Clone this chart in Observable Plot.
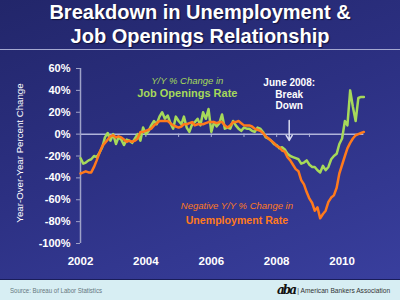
<!DOCTYPE html>
<html><head><meta charset="utf-8">
<script src="https://cdn.jsdelivr.net/npm/d3@7"></script>
<script src="https://cdn.jsdelivr.net/npm/@observablehq/plot@0.6"></script>
<style>
html,body{margin:0;padding:0;background:#2a2e78;}
#chart{position:relative;width:400px;height:300px;overflow:hidden;font-family:"Liberation Sans",Arial,sans-serif;background:linear-gradient(160deg,#22266a 0%,#2c3082 45%,#3a40a0 100%);}
#title{height:49px;color:#fff;font-weight:bold;font-size:20px;line-height:24px;text-align:center;text-shadow:1px 1px 1px rgba(0,0,20,0.6);border-bottom:1px solid #a4a8d0;}
#ylabel{position:absolute;left:19px;top:152.5px;transform:translate(-50%,-50%) rotate(-90deg);color:#fff;font-size:9.7px;white-space:nowrap;}
#footer{position:absolute;left:0;top:279px;width:400px;height:21px;background:#d7eef3;border-top:1px solid #1a1d5a;box-sizing:border-box;}
#source{position:absolute;left:10px;top:0;line-height:21px;font-size:7.4px;color:#66777e;white-space:nowrap;transform:scaleX(0.82);transform-origin:0 50%;}
#aba{position:absolute;right:10px;top:0;line-height:21px;font-size:7.8px;color:#333;white-space:nowrap;transform:scaleX(0.85);transform-origin:100% 50%;}
#logo{position:absolute;left:277px;top:0;line-height:20px;font-family:"DejaVu Serif",serif;font-weight:bold;font-style:italic;font-size:12px;letter-spacing:-2px;color:#111;}
</style>
</head><body>
<div id="chart">
  <div id="title">Breakdown in Unemployment &amp;<br>Job Openings Relationship</div>
  <div id="plot"></div>
  <div id="ylabel">Year-Over-Year Percent Change</div>
  <div id="footer">
    <div id="source">Source: Bureau of Labor Statistics</div>
    <div id="logo">aba</div>
    <div id="aba">| American Bankers Association</div>
  </div>
</div>
<script>
// Monthly series, Jan 2002 – Sep 2010
const jobOpenings = [
-22,-27,-26,-24,-23,-20,-21,-17,-12,-3,
1,-6,0,-9,-3,-5,-10,-5,-6,-8,
-4,0,-6,6,0,3,8,12,9,16,
20,14,17,10,5,16,12,9,16,6,
2,9,11,14,8,20,14,23,2,11,
7,10,18,5,6,5,12,8,5,3,
6,5,5,3,2,6,5,2,-3,-4,
-6,-9,-10,-13,-12,-14,-18,-20,-21,-22,
-23,-27,-26,-24,-28,-30,-30,-33,-35,-29,
-33,-30,-23,-20,-18,-9,-4,12,8,40,
25,12,33,34,34
];
const negUnemployment = [
-36,-35,-34,-35,-35,-30,-24,-17,-11,-8,
-5,-2,-1,-3,-2,-3,-5,-7,-6,-7,
-6,-4,2,2,3,4,5,8,10,12,
12,12,12,10,8,7,6,7,9,9,
10,11,8,9,9,9,10,11,11,11,
10,11,11,8,6,8,11,11,12,10,
8,8,8,7,5,4,3,1,-2,-4,
-6,-8,-11,-12,-15,-16,-21,-24,-28,-32,
-34,-42,-46,-53,-59,-63,-70,-67,-77,-73,
-70,-62,-58,-56,-49,-36,-28,-20,-13,-8,
-4,-1,0,1,2
];
const yTicks = [-100,-80,-60,-40,-20,0,20,40,60];
const labelYears = [2002,2004,2006,2008,2010];
const tickYears = [2003,2004,2005,2006,2007,2008,2009,2010];

const start = new Date(Date.UTC(2002,0,1));
const end = new Date(Date.UTC(2011,0,1));
const months = d3.utcMonth.range(start, new Date(Date.UTC(2010,9,1)));
const rows = months.map((d,i)=>({date:d, jobs:jobOpenings[i], unemp:negUnemployment[i]}));
const yr = y => new Date(Date.UTC(y,0,1));

const greenNoteDate = new Date(Date.UTC(2005,3,8));
const orangeNoteDate = new Date(Date.UTC(2006,9,14));
const breakDate = new Date(Date.UTC(2008,4,20));
const GREEN = "#a6d95a", ORANGE = "#ff7a1c";

const note = (date, value, label, opts) =>
  Plot.text([{date, value, label}], {x:"date", y:"value", text:"label", textAnchor:"middle", ...opts});

const chart = Plot.plot({
  width:400, height:230,
  marginLeft:80, marginRight:25.7, marginTop:18, marginBottom:37,
  style:{background:"transparent", color:"#fff", fontFamily:"Liberation Sans, Arial, sans-serif", overflow:"visible"},
  x:{type:"utc", domain:[start, end]},
  y:{domain:[-100,60]},
  marks:[
    Plot.ruleY([0], {x1:()=>start, x2:()=>months[months.length-1], stroke:"#b0b4da", strokeWidth:1.5}),
    Plot.ruleX(tickYears.map(yr), {y1:0, y2:-3, stroke:"#b0b4da", strokeWidth:1}),
    Plot.ruleX([start], {stroke:"#9ea2c8", strokeWidth:1.5}),
    Plot.axisY({ticks:yTicks, tickFormat:d=>d+"%", tickSize:4, tickPadding:6, stroke:"#9ea2c8", fill:"#fff", fontSize:11, fontWeight:"bold", label:null}),
    Plot.axisX({ticks:labelYears.map(yr), tickFormat:d3.utcFormat("%Y"), tickSize:0, tickPadding:13.5, fill:"#fff", fontSize:11.5, fontWeight:"bold", label:null}),
    Plot.line(rows, {x:"date", y:"jobs", stroke:GREEN, strokeWidth:2.5}),
    Plot.line(rows, {x:"date", y:"unemp", stroke:ORANGE, strokeWidth:2.5}),
    note(greenNoteDate, 49, "Y/Y % Change in", {fill:GREEN, fontStyle:"italic", fontWeight:"normal", fontSize:9.5}),
    note(greenNoteDate, 36.8, "Job Openings Rate", {fill:GREEN, fontWeight:"bold", fontSize:11}),
    note(orangeNoteDate, -66, "Negative Y/Y % Change in", {fill:ORANGE, fontStyle:"italic", fontWeight:"normal", fontSize:9.5}),
    note(orangeNoteDate, -79, "Unemployment Rate", {fill:ORANGE, fontWeight:"bold", fontSize:10.6}),
    note(breakDate, 36.8, "June 2008:\nBreak\nDown", {fill:"#fff", fontSize:10, fontWeight:"bold", lineHeight:1.17}),
    Plot.arrow([{date:breakDate, from:12.4, to:-5.8}], {x1:"date", x2:"date", y1:"from", y2:"to", stroke:"#d8dbef", strokeWidth:1.5, headLength:6, bend:0})
  ]
});
document.getElementById("plot").appendChild(chart);
</script>
</body></html>
